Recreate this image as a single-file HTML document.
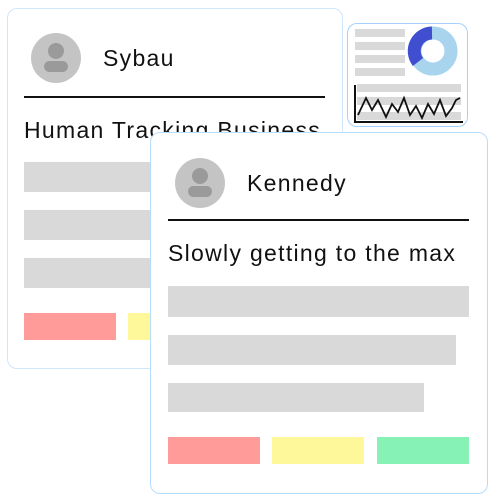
<!DOCTYPE html>
<html><head><style>
body{margin:0;width:497px;height:502px;background:#fff;position:relative;overflow:hidden;font-family:"Liberation Sans",sans-serif;}
.card{position:absolute;background:#fff;border:1px solid #cfe6ff;border-radius:10px;box-sizing:border-box;}
.a{position:absolute;}
.g{position:absolute;background:#d9d9d9;}
.av{position:absolute;width:50px;height:50px;border-radius:50%;background:#c4c4c4;}
.av:before{content:"";position:absolute;left:17px;top:10px;width:16px;height:16px;border-radius:50%;background:#9a9a9a;}
.av:after{content:"";position:absolute;left:13px;top:28px;width:24px;height:11px;border-radius:6px;background:#9a9a9a;}
.t{position:absolute;font-size:23px;letter-spacing:1.3px;color:#111;white-space:nowrap;}
</style></head><body>
<div class="card" style="left:347px;top:23px;width:121px;height:104px;border-color:#a8d0ff;"></div>
<div class="g" style="left:355px;top:29px;width:50px;height:8px"></div>
<div class="g" style="left:355px;top:42px;width:50px;height:8px"></div>
<div class="g" style="left:355px;top:55px;width:50px;height:8px"></div>
<div class="g" style="left:355px;top:68px;width:50px;height:8px"></div>
<div class="g" style="left:357px;top:84px;width:104px;height:8px"></div>
<div class="g" style="left:357px;top:97px;width:104px;height:8px"></div>
<div class="g" style="left:357px;top:112px;width:104px;height:8px"></div>
<svg class="a" style="left:348px;top:22px" width="120" height="106">
<circle cx="85" cy="29" r="18" fill="none" stroke="#a8d4ee" stroke-width="13"/>
<path d="M84 11 A18 18 0 0 0 70 40" fill="none" stroke="#3f4fd0" stroke-width="13"/>
<polyline points="7,63 7,100 115,100" fill="none" stroke="#111" stroke-width="2"/>
<polyline points="10,93 18,76 24,88 30,78 38,95 44,82 50,90 56,76 62,93 68,84 74,96 80,82 86,92 92,78 98,94 104,86 108,78 112,76" fill="none" stroke="#111" stroke-width="1.8"/>
</svg>
<div class="card" style="left:7px;top:8px;width:336px;height:361px"></div>
<div class="av" style="left:31px;top:33px"></div>
<div class="t" style="left:103px;top:45px">Sybau</div>
<div class="a" style="left:24px;top:96px;width:301px;height:2px;background:#111"></div>
<div class="t" style="left:24px;top:117px">Human Tracking Business</div>
<div class="g" style="left:24px;top:162px;width:300px;height:30px"></div>
<div class="g" style="left:24px;top:210px;width:300px;height:30px"></div>
<div class="g" style="left:24px;top:258px;width:300px;height:30px"></div>
<div class="a" style="left:24px;top:313px;width:92px;height:27px;background:#ff9c9a"></div>
<div class="a" style="left:128px;top:313px;width:92px;height:27px;background:#fff89a"></div>
<div class="card" style="left:150px;top:132px;width:338px;height:362px;border-color:#b8dcff"></div>
<div class="av" style="left:175px;top:158px"></div>
<div class="t" style="left:247px;top:170px">Kennedy</div>
<div class="a" style="left:168px;top:219px;width:301px;height:2px;background:#111"></div>
<div class="t" style="left:168px;top:240px">Slowly getting to the max</div>
<div class="g" style="left:168px;top:286px;width:301px;height:31px"></div>
<div class="g" style="left:168px;top:335px;width:288px;height:30px"></div>
<div class="g" style="left:168px;top:383px;width:256px;height:29px"></div>
<div class="a" style="left:168px;top:437px;width:92px;height:27px;background:#ff9c9a"></div>
<div class="a" style="left:272px;top:437px;width:92px;height:27px;background:#fff89a"></div>
<div class="a" style="left:377px;top:437px;width:92px;height:27px;background:#86f2b6"></div>
</body></html>
